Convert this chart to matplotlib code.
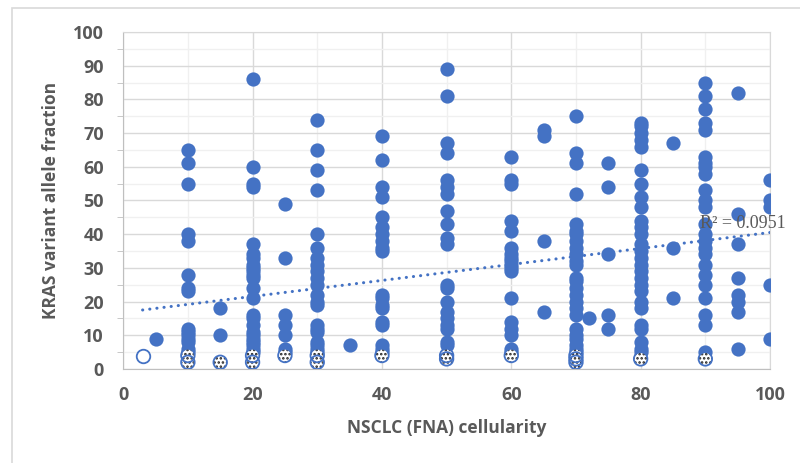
import matplotlib
matplotlib.use("Agg")
import matplotlib.pyplot as plt
from matplotlib.patches import Rectangle
import numpy as np

# KRAS VAF per cellularity level (solid points)
vaf = {
    5: [9],
    10: [65, 61, 55, 40, 38, 28, 24, 23, 12, 11, 10, 9, 8, 6, 5],
    15: [18, 10],
    20: [86, 60, 55, 54, 37, 34, 33, 31, 30, 29, 28, 27, 24, 21, 16, 15, 13, 11, 10, 9, 8, 7, 6, 5],
    25: [49, 33, 16, 13, 10, 6, 5],
    30: [74, 65, 59, 53, 40, 36, 33, 31, 29, 27, 25, 22, 20, 19, 13, 12, 11, 8, 7, 6, 5],
    35: [7],
    40: [69, 62, 54, 51, 45, 42, 40, 38, 36, 35, 22, 21, 19, 18, 14, 13, 7, 6, 5],
    50: [89, 81, 67, 64, 56, 54, 52, 47, 43, 39, 37, 25, 24, 20, 17, 15, 13, 12, 8, 7],
    60: [63, 56, 55, 44, 41, 36, 34, 33, 32, 31, 30, 29, 21, 14, 12, 10, 6, 5],
    65: [71, 69, 38, 17],
    70: [75, 64, 61, 52, 43, 41, 40, 38, 36, 34, 32, 31, 27, 26, 24, 22, 20, 18, 16, 12, 10, 9, 7, 6, 5],
    72: [15],
    75: [61, 54, 34, 16, 12],
    80: [73, 72, 70, 68, 66, 59, 55, 51, 48, 44, 42, 40, 37, 35, 33, 31, 29, 27, 25, 23, 20, 18, 13, 12, 8, 6, 5],
    85: [67, 36, 21],
    90: [85, 81, 77, 73, 71, 63, 61, 60, 58, 53, 50, 48, 43, 40, 38, 36, 34, 31, 28, 25, 21, 16, 13, 5],
    95: [82, 46, 37, 27, 22, 20, 17, 6],
    100: [56, 50, 48, 25, 9],
}

# low-level calls (patterned points)
low_x = [10, 10, 15, 20, 20, 25, 30, 30, 40, 50, 50, 60, 70, 70, 70, 80, 90]
low_y = [4, 2, 2, 4, 2, 4, 4, 2, 4, 4, 3, 4, 4, 3, 2, 3, 3]

# single open point
open_x = [3]
open_y = [4]

# linear trendline (slope, intercept) and its R^2
trend_slope = 0.237
trend_intercept = 16.8
trend_range = [3, 100]
r2_label = "R\u00b2 = 0.0951"

blue = "#4472c4"
grey_txt = "#595959"
font = "Open Sans"

xs = np.concatenate([[k] * len(v) for k, v in vaf.items()]).astype(float)
ys = np.concatenate([v for v in vaf.values()]).astype(float)

fig = plt.figure(figsize=(8, 4.63), dpi=100)
ax = fig.add_axes([0.154, 0.203, 0.8085, 0.728])

# outer chart frame
fig.add_artist(Rectangle((12 / 800, -0.1), 1.0, 1.1 - 8 / 463, transform=fig.transFigure,
                         fill=False, edgecolor="#d9d9d9", linewidth=1.2))

ax.scatter(xs, ys, s=105, color=blue, linewidths=0, zorder=3)

plt.rcParams["hatch.color"] = "#222222"
plt.rcParams["hatch.linewidth"] = 1.2
ax.scatter(low_x, low_y, s=95, facecolor="white", edgecolor="#222222", hatch="....",
           linewidths=0, zorder=4)
ax.scatter(low_x, low_y, s=95, facecolor="none", edgecolor=blue, linewidths=1.3, zorder=5)
ax.scatter(open_x, open_y, s=95, facecolor="white", edgecolor=blue, linewidths=1.3, zorder=4)

tx = np.array(trend_range, dtype=float)
ax.plot(tx, trend_slope * tx + trend_intercept, color=blue, lw=2.2, ls=(0, (0.05, 2.3)),
        dash_capstyle="round", zorder=6)
ax.text(89.2, 43.3, r2_label, fontsize=13, family="Liberation Serif",
        color=grey_txt, va="center", ha="left", clip_on=False, zorder=7)

ax.set_xlim(0, 100)
ax.set_ylim(0, 100)
ax.set_xticks(np.arange(0, 101, 20))
ax.set_xticks(np.arange(0, 101, 10), minor=True)
ax.set_yticks(np.arange(0, 101, 10))
ax.set_yticks(np.arange(0, 101, 5), minor=True)
ax.grid(which="major", color="#d9d9d9", lw=1.0, zorder=0)
ax.grid(which="minor", color="#f0f0f0", lw=1.0, zorder=0)
ax.set_axisbelow(True)
for s in ax.spines.values():
    s.set_color("#d9d9d9")
ax.spines["left"].set_color("#bfbfbf")
ax.spines["bottom"].set_color("#bfbfbf")
ax.tick_params(axis="both", which="major", length=0, labelsize=13, labelcolor=grey_txt)
ax.tick_params(axis="x", which="minor", length=0)
ax.tick_params(axis="y", which="minor", length=4, color="#bfbfbf")
ax.tick_params(axis="x", which="major", pad=12)
ax.tick_params(axis="y", which="major", pad=14)
for lab in ax.get_xticklabels() + ax.get_yticklabels():
    lab.set_fontweight("bold")
    lab.set_family(font)

ax.set_xlabel("NSCLC (FNA) cellularity", fontsize=12.5, fontweight="bold", family=font,
              color=grey_txt, labelpad=11)
ax.set_ylabel("KRAS variant allele fraction", fontsize=12.5, fontweight="bold", family=font,
              color=grey_txt, labelpad=9)

fig.savefig("out.png", dpi=100)
